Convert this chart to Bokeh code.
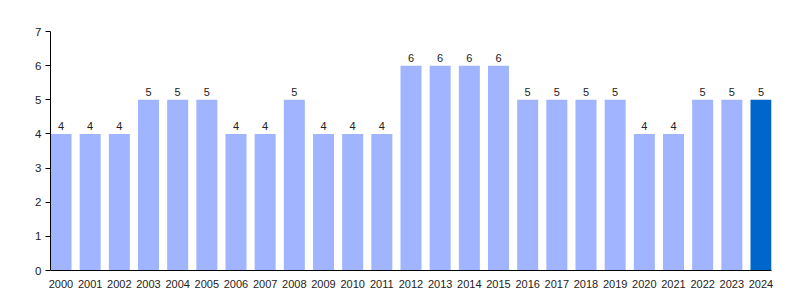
from bokeh.plotting import figure
from bokeh.models import ColumnDataSource, Range1d, FixedTicker, LinearAxis
from bokeh.embed import file_html
from bokeh.resources import INLINE
from bokeh.core.properties import value

years = [str(y) for y in range(2000, 2025)]
counts = [4, 4, 4, 5, 5, 5, 4, 4, 5, 4, 4, 4, 6, 6, 6, 6, 5, 5, 5, 5, 4, 4, 5, 5, 5]
y_ticks = [0, 1, 2, 3, 4, 5, 6, 7]

LIGHT = "#a0b4ff"
DARK = "#0066cc"

xs = list(range(len(years)))
colors = [LIGHT] * (len(years) - 1) + [DARK]
src = ColumnDataSource(dict(x=xs, top=counts, color=colors,
                            label=[str(c) for c in counts]))

p = figure(width=800, height=300, output_backend="svg", toolbar_location=None,
           x_range=Range1d(-0.36, len(years) - 1 + 0.36), y_range=Range1d(0, 7),
           min_border_left=50, min_border_right=29, min_border_top=31,
           min_border_bottom=30, x_axis_type=None, y_axis_type=None)
p.outline_line_color = None
p.background_fill_color = "white"
p.border_fill_color = "white"

yax = LinearAxis(ticker=FixedTicker(ticks=y_ticks))
yax.axis_line_color = "black"
yax.major_tick_line_color = "black"
yax.major_tick_out = 5
yax.major_tick_in = 0
yax.minor_tick_line_color = None
yax.major_label_text_font = "Liberation Sans"
yax.major_label_text_font_size = "11.5px"
yax.major_label_text_color = "#222222"
yax.major_label_standoff = 4
p.add_layout(yax, "left")

xax = LinearAxis(ticker=FixedTicker(ticks=xs),
                 major_label_overrides={i: y for i, y in enumerate(years)})
xax.axis_line_color = "black"
xax.major_tick_line_color = None
xax.minor_tick_line_color = None
xax.major_label_text_font = "Liberation Sans"
xax.major_label_text_font_size = "11px"
xax.major_label_text_color = "#222222"
xax.major_label_standoff = 3
p.add_layout(xax, "below")

p.xgrid.grid_line_color = None
p.ygrid.grid_line_color = "#b0b0b0"
p.ygrid.ticker = FixedTicker(ticks=y_ticks)
p.ygrid.level = "underlay"

p.vbar(x="x", top="top", bottom=0, width=0.72, color="color", line_color=None,
       source=src)
p.text(x="x", y="top", text="label", source=src, y_offset=-4,
       text_align="center", text_baseline="bottom",
       text_font=value("Liberation Sans"), text_font_size="11px",
       text_color="#222222")

open("out.html", "w").write(file_html(p, INLINE))
